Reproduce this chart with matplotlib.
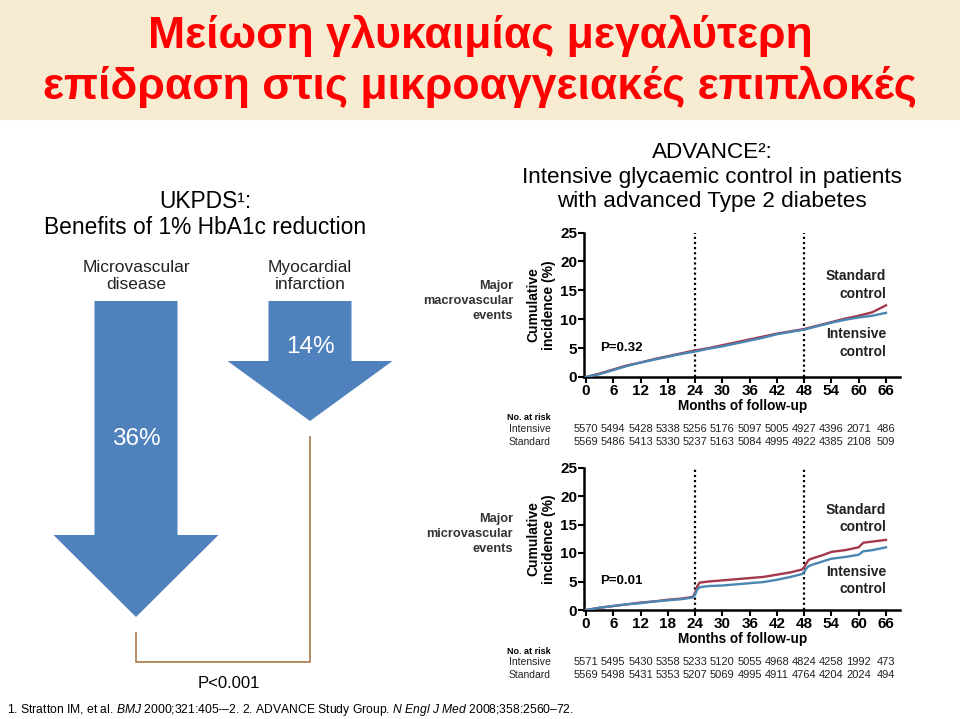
import matplotlib
matplotlib.use("Agg")
import matplotlib.pyplot as plt
import matplotlib.transforms as mtransforms
from matplotlib.patches import Polygon, Rectangle

plt.rcParams['font.family'] = ['Liberation Sans', 'DejaVu Sans']
plt.rcParams['mathtext.fontset'] = 'custom'
plt.rcParams['mathtext.rm'] = 'Liberation Sans'
plt.rcParams['mathtext.it'] = 'Liberation Sans:italic'

# ---- data ----
title_lines = ["Μείωση γλυκαιμίας μεγαλύτερη", "επίδραση στις μικροαγγειακές επιπλοκές"]
ukpds_labels = ["Microvascular\ndisease", "Myocardial\ninfarction"]
ukpds_reduction = [36, 14]

tick_months = [0, 6, 12, 18, 24, 30, 36, 42, 48, 54, 60, 66]

macro_months = [0, 3, 6, 9, 12, 15, 18, 21, 24, 27, 30, 33, 36, 39, 42, 45, 48, 51, 54, 57, 60, 63, 66]
macro_standard = [0, 0.6, 1.3, 2.0, 2.5, 3.1, 3.6, 4.1, 4.6, 5.0, 5.5, 6.0, 6.5, 7.0, 7.5, 7.9, 8.3,
                  8.9, 9.5, 10.1, 10.6, 11.2, 12.4]
macro_intensive = [0, 0.5, 1.2, 1.9, 2.5, 3.0, 3.5, 4.0, 4.4, 4.9, 5.3, 5.8, 6.3, 6.8, 7.4, 7.8, 8.2,
                   8.8, 9.4, 9.9, 10.3, 10.6, 11.1]
macro_risk_int = [5570, 5494, 5428, 5338, 5256, 5176, 5097, 5005, 4927, 4396, 2071, 486]
macro_risk_std = [5569, 5486, 5413, 5330, 5237, 5163, 5084, 4995, 4922, 4385, 2108, 509]

micro_months = [0, 3, 6, 9, 12, 15, 18, 21, 23.5, 24, 24.5, 25, 27, 30, 33, 36, 39, 42, 45,
                47.5, 48, 48.5, 49, 50, 52, 54, 57, 60, 60.5, 61, 63, 66]
micro_standard = [0, 0.4, 0.7, 1.0, 1.3, 1.5, 1.8, 2.0, 2.3, 3.0, 4.2, 4.8, 5.0, 5.2, 5.4, 5.6, 5.8,
                  6.2, 6.6, 7.1, 7.5, 8.2, 8.8, 9.1, 9.6, 10.2, 10.5, 11.0, 11.4, 11.8, 12.0, 12.3]
micro_intensive = [0, 0.4, 0.7, 1.0, 1.2, 1.5, 1.7, 1.9, 2.2, 2.7, 3.6, 4.0, 4.2, 4.3, 4.5, 4.7, 4.9,
                   5.3, 5.8, 6.3, 6.7, 7.3, 7.7, 8.0, 8.5, 9.0, 9.3, 9.7, 10.0, 10.3, 10.5, 11.0]
micro_risk_int = [5571, 5495, 5430, 5358, 5233, 5120, 5055, 4968, 4824, 4258, 1992, 473]
micro_risk_std = [5569, 5498, 5431, 5353, 5207, 5069, 4995, 4911, 4764, 4204, 2024, 494]

W, H = 960, 719
fig = plt.figure(figsize=(W / 100, H / 100), dpi=100)
fig.patch.set_facecolor('white')

# full-figure axes in pixel coordinates for the slide elements
bg = fig.add_axes([0, 0, 1, 1])
bg.set_xlim(0, W)
bg.set_ylim(H, 0)
bg.axis('off')

bg.add_patch(Rectangle((0, 0), W, 119, color='#F7ECD2', zorder=0))
bg.text(480, 48, title_lines[0], ha='center', va='baseline', color='#FF0000', fontsize=32,
        fontweight='bold')
bg.text(480, 99, title_lines[1], ha='center', va='baseline', color='#FF0000', fontsize=32,
        fontweight='bold')

# ---- UKPDS arrows ----
blue = '#4F81BD'
bg.text(205, 202, "UKPDS¹:", ha='center', va='center', fontsize=16.4)
bg.text(205, 228, "Benefits of 1% HbA1c reduction", ha='center', va='center', fontsize=16.4)

arrow_x = [136, 310]
shaft_end = [535, 361]
tip_y = [617, 421]
label_y = [439, 347]
shaft_half = 41.5
head_half = 82.5
top = 301
for cx, lab, red, se, tp, ly in zip(arrow_x, ukpds_labels, ukpds_reduction, shaft_end, tip_y, label_y):
    bg.text(cx, 276, lab, ha='center', va='center', fontsize=12.5, color='#222222',
            linespacing=1.2)
    pts = [(cx - shaft_half, top), (cx + shaft_half, top), (cx + shaft_half, se),
           (cx + head_half, se), (cx, tp), (cx - head_half, se), (cx - shaft_half, se)]
    bg.add_patch(Polygon(pts, closed=True, facecolor=blue, edgecolor='none', zorder=2))
    bg.text(cx, ly, f"{red}%", ha='center', va='center', fontsize=17.5, color='white', zorder=3)

bg.plot([310, 310, 136, 136], [437, 662, 662, 633], color='#B08456', lw=1.3, zorder=2)
bg.text(229, 683, "P<0.001", ha='center', va='center', fontsize=12)

bg.text(7, 710, r"1. Stratton IM, et al. $\mathit{BMJ}$ 2000;321:405-–2. 2. ADVANCE Study Group. "
        r"$\mathit{N\ Engl\ J\ Med}$ 2008;358:2560–72.", ha='left', va='center', fontsize=8.7)

# ---- ADVANCE panels ----
bg.text(712, 152, "ADVANCE²:", ha='center', va='center', fontsize=16.2)
bg.text(712, 177, "Intensive glycaemic control in patients", ha='center', va='center', fontsize=16.2)
bg.text(712, 201, "with advanced Type 2 diabetes", ha='center', va='center', fontsize=16.2)

red_c = '#A3374B'
blue_c = '#4A86B2'


def km_panel(y0, y25, months, std, inten, risk_i, risk_s, label, pval, std_y, int_y):
    x_left, x_right = 584.2, 899.6
    ax = fig.add_axes([x_left / W, (H - y0) / H, (x_right - x_left) / W, (y0 - y25) / H])
    ax.patch.set_alpha(0)
    ax.plot(months, std, color=red_c, lw=1.7, zorder=3)
    ax.plot(months, inten, color=blue_c, lw=1.7, zorder=4)
    for v in [24, 48]:
        ax.plot([v, v], [0, 25], color='black', lw=1.6, ls=(0, (1, 1.3)), zorder=2)
    ax.set_xlim(-0.4, 69)
    ax.set_ylim(0, 25)
    ax.set_xticks(tick_months)
    ax.set_yticks([0, 5, 10, 15, 20, 25])
    for s in ['top', 'right']:
        ax.spines[s].set_visible(False)
    for s in ['left', 'bottom']:
        ax.spines[s].set_linewidth(1.8)
    ax.tick_params(axis='both', direction='out', length=4, width=1.5, labelsize=11, pad=1)
    for t in ax.get_xticklabels() + ax.get_yticklabels():
        t.set_fontweight('bold')
    ax.set_ylabel("Cumulative\nincidence (%)", fontsize=10, fontweight='bold', labelpad=3,
                  linespacing=1.15)
    ax.text(3.1, 5.0, pval, fontsize=9.5, fontweight='bold', ha='left', va='center')
    ax.text(66, std_y, "Standard\ncontrol", fontsize=10, fontweight='bold', ha='right',
            va='center', color='#222222', linespacing=1.3)
    ax.text(66, int_y, "Intensive\ncontrol", fontsize=10, fontweight='bold', ha='right',
            va='center', color='#222222', linespacing=1.3)
    bg.text(513, y0 - 76, label, ha='right', va='center', fontsize=9.2, fontweight='bold',
            color='#333333', linespacing=1.3)
    bg.text(743, y0 + 29, "Months of follow-up", ha='center', va='center', fontsize=9.8,
            fontweight='bold')
    tr = mtransforms.blended_transform_factory(ax.transData, bg.transData)
    bg.text(551, y0 + 41, "No. at risk", ha='right', va='center', fontsize=6.5, fontweight='bold')
    bg.text(551, y0 + 52, "Intensive", ha='right', va='center', fontsize=7.5, color='#222222')
    bg.text(551, y0 + 65, "Standard", ha='right', va='center', fontsize=7.5, color='#222222')
    for m, a, b in zip(tick_months, risk_i, risk_s):
        bg.text(m, y0 + 52, str(a), transform=tr, ha='center', va='center', fontsize=8,
                color='#222222')
        bg.text(m, y0 + 65, str(b), transform=tr, ha='center', va='center', fontsize=8,
                color='#222222')
    return ax


km_panel(377, 232.5, macro_months, macro_standard, macro_intensive, macro_risk_int,
         macro_risk_std, "Major\nmacrovascular\nevents", "P=0.32", 15.9, 5.9)
km_panel(610, 467.5, micro_months, micro_standard, micro_intensive, micro_risk_int,
         micro_risk_std, "Major\nmicrovascular\nevents", "P=0.01", 16.0, 5.2)

fig.savefig("out.png", dpi=100, facecolor=fig.get_facecolor())
